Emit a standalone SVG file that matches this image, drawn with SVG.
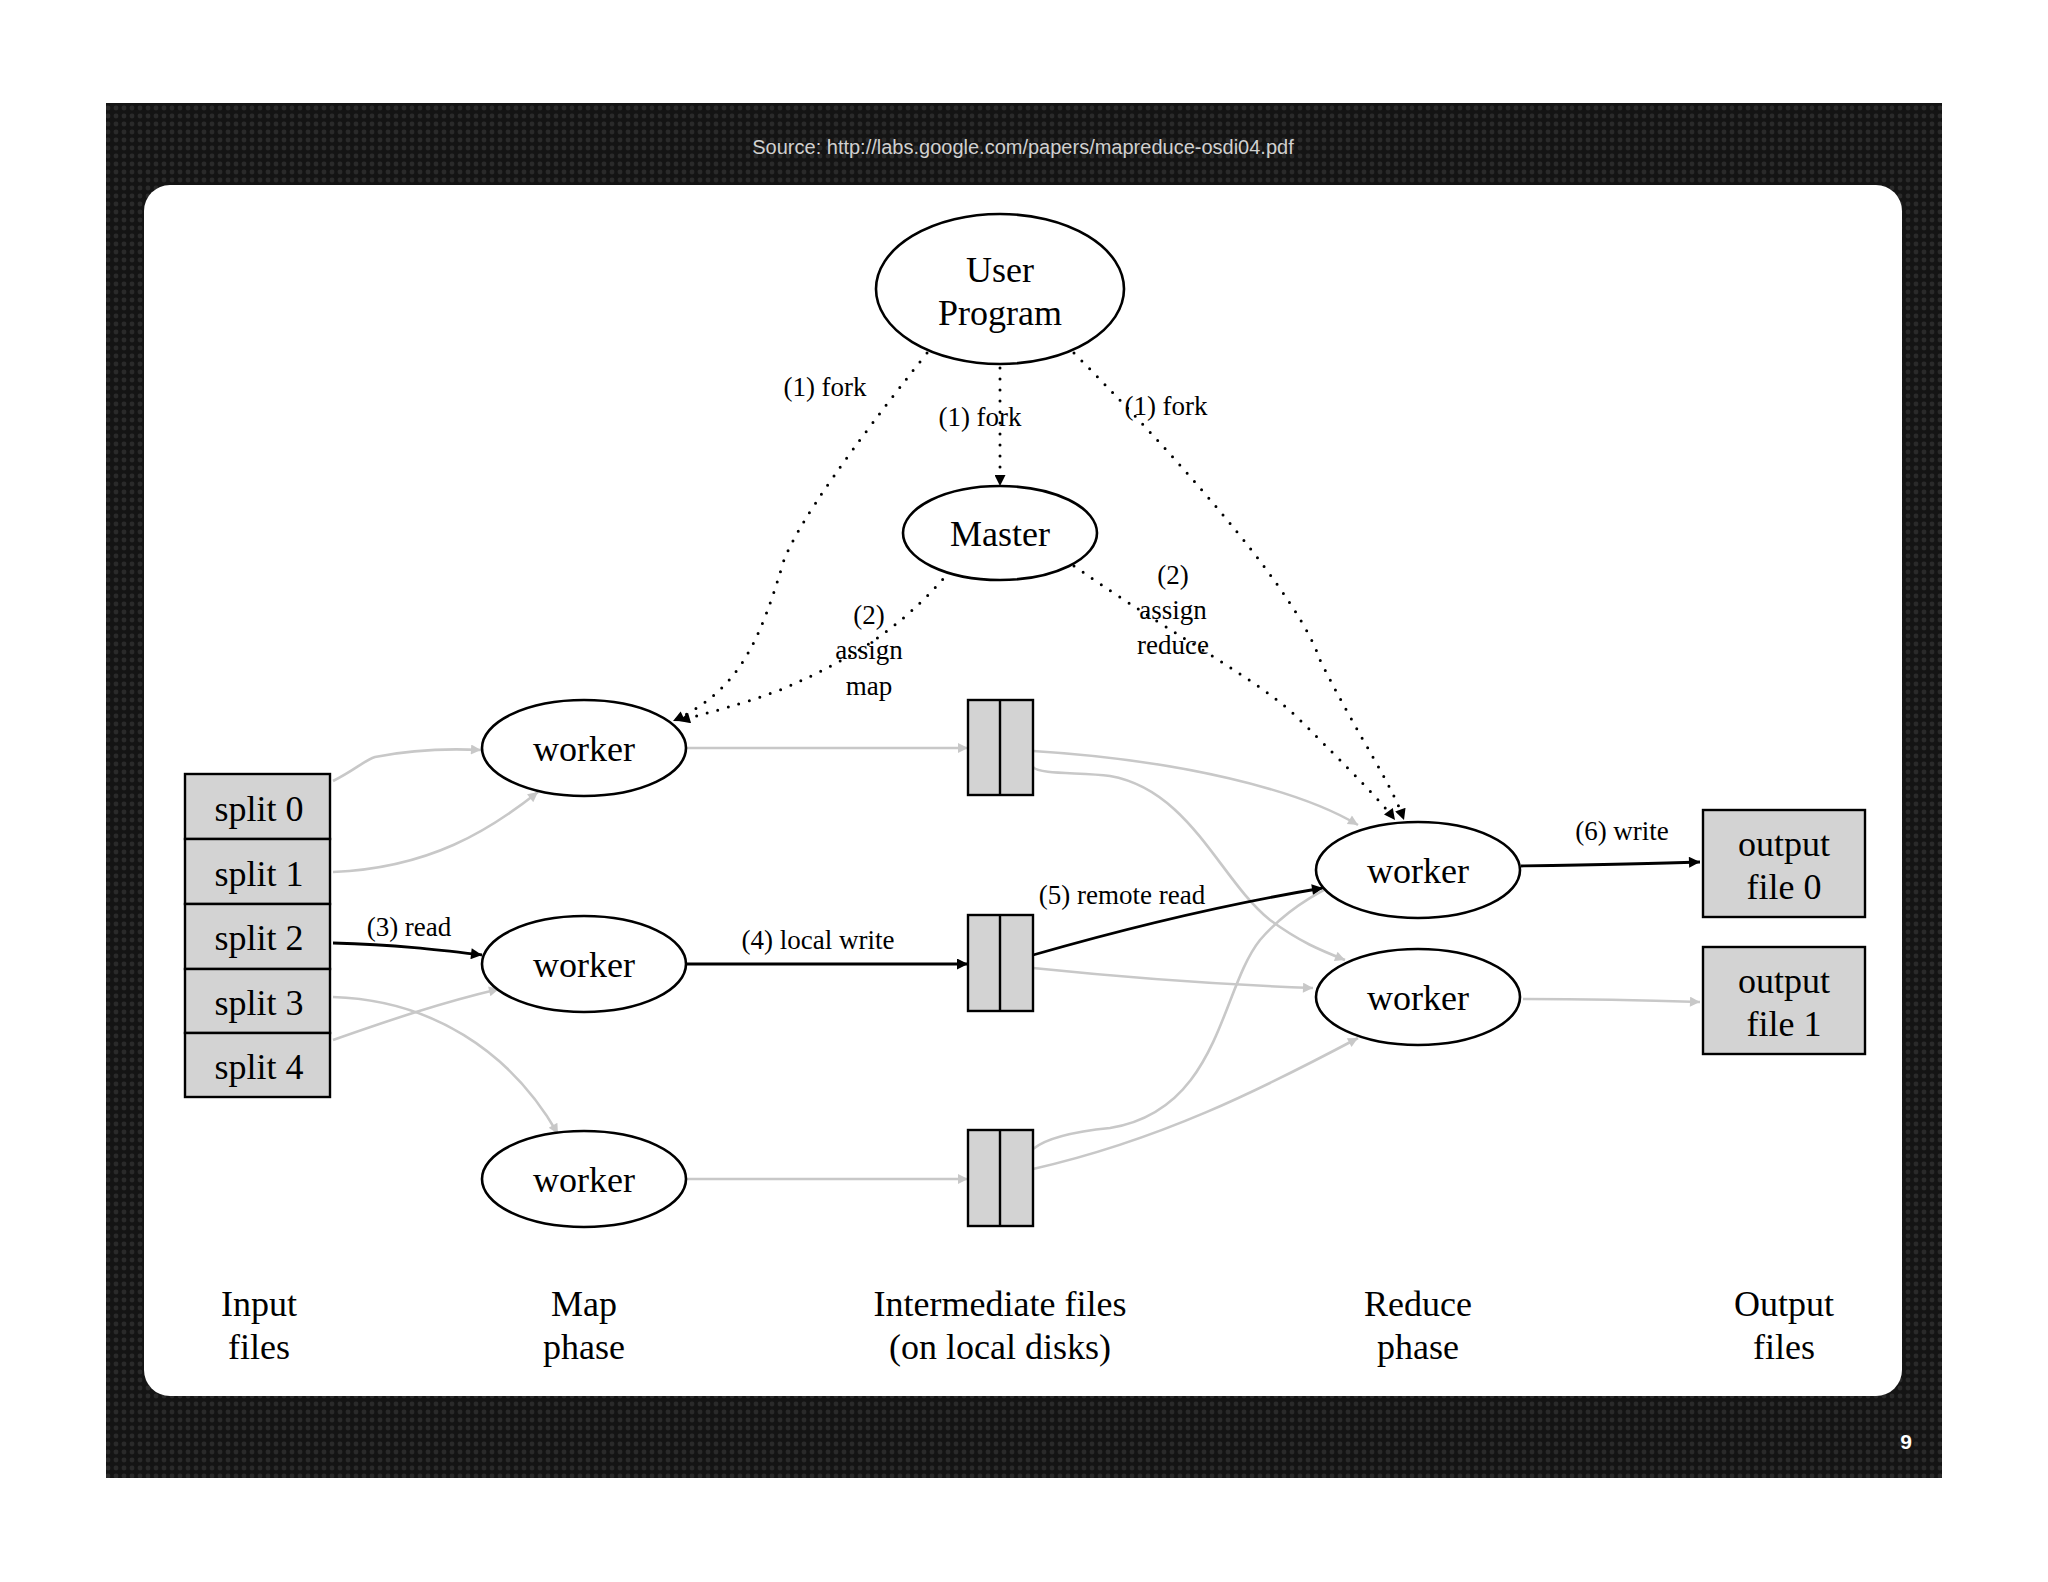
<svg xmlns="http://www.w3.org/2000/svg" width="2048" height="1582" viewBox="0 0 2048 1582">
<style>
.n{fill:#fff;stroke:#000;stroke-width:2.6}
.b{fill:#d3d3d3;stroke:#000;stroke-width:2.4}
.t{font-family:"Liberation Serif","Times New Roman",serif;font-size:36px;text-anchor:middle;fill:#000}
.l{font-family:"Liberation Serif","Times New Roman",serif;font-size:27px;text-anchor:middle;fill:#000}
.g{fill:none;stroke:#c8c8c8;stroke-width:2.6;marker-end:url(#ag)}
.k{fill:none;stroke:#000;stroke-width:2.8;marker-end:url(#ak)}
.d{fill:none;stroke:#000;stroke-width:3;stroke-linecap:round;stroke-dasharray:0 11;marker-end:url(#ak)}
</style>
<defs>
<pattern id="cf" width="8" height="8" patternUnits="userSpaceOnUse"><rect width="8" height="8" fill="#141414"/><circle cx="4" cy="4" r="2.4" fill="#2a2a2a"/></pattern>
<marker id="ag" viewBox="0 0 10 10" refX="10" refY="5" markerWidth="16" markerHeight="10" markerUnits="userSpaceOnUse" orient="auto"><path d="M0,0L10,5L0,10z" fill="#c8c8c8"/></marker>
<marker id="ak" viewBox="0 0 10 10" refX="10" refY="5" markerWidth="17" markerHeight="11" markerUnits="userSpaceOnUse" orient="auto"><path d="M0,0L10,5L0,10z" fill="#000"/></marker>
</defs>
<rect width="2048" height="1582" fill="#fff"/>
<rect x="106" y="103" width="1836" height="1375" fill="url(#cf)"/>
<text x="1023" y="154" font-family="Liberation Sans,Arial,sans-serif" font-size="20" fill="#d0d0d0" text-anchor="middle">Source: http://labs.google.com/papers/mapreduce-osdi04.pdf</text>
<text x="1906" y="1449" font-family="Liberation Sans,Arial,sans-serif" font-size="21" font-weight="bold" fill="#fff" text-anchor="middle">9</text>
<rect x="144" y="185" width="1758" height="1211" rx="26" fill="#fff"/>

<g id="connectors">
<path class="d" d="M927,353 C850,450 800,520 784,560 C760,640 740,690 673,721"/>
<path class="d" d="M1000,368 L1000,486"/>
<path class="d" d="M1074,353 C1200,480 1300,600 1320,660 C1360,740 1390,780 1404,820"/>
<path class="d" d="M950,571 C900,630 850,660 780,690 C740,705 710,712 679,721"/>
<path class="d" d="M1074,566 C1180,640 1260,680 1300,720 C1350,770 1380,800 1395,820"/>
<path class="g" d="M333,781 C355,770 365,760 375,757 C410,750 440,748 481,750"/>
<path class="g" d="M333,872 C430,868 490,830 538,792"/>
<path class="k" d="M333,943 C400,945 440,950 482,955"/>
<path class="g" d="M333,997 C430,1000 510,1050 558,1134"/>
<path class="g" d="M333,1040 C390,1020 440,1003 499,989"/>
<path class="g" d="M687,748 L968,748"/>
<path class="k" d="M687,964 L968,964"/>
<path class="g" d="M687,1179 L968,1179"/>
<path class="g" d="M1033,751 C1180,760 1300,790 1358,825"/>
<path class="g" d="M1033,767 C1040,775 1080,772 1110,776 C1190,790 1220,880 1270,920 C1300,942 1320,950 1345,960"/>
<path class="k" d="M1033,955 C1120,930 1220,905 1323,888"/>
<path class="g" d="M1033,968 C1120,977 1230,985 1313,988"/>
<path class="g" d="M1033,1149 C1050,1135 1090,1130 1110,1128 C1220,1110 1220,990 1260,940 C1290,905 1330,885 1358,875"/>
<path class="g" d="M1033,1169 C1160,1140 1260,1090 1358,1038"/>
<path class="k" d="M1521,866 C1580,865 1640,864 1700,862"/>
<path class="g" d="M1523,999 C1580,999 1640,1000 1700,1002"/>
</g>

<g id="labels">
<text class="l" x="825" y="396">(1) fork</text>
<text class="l" x="980" y="426">(1) fork</text>
<text class="l" x="1166" y="415">(1) fork</text>
<text class="l" x="869" y="624">(2)</text><text class="l" x="869" y="659">assign</text><text class="l" x="869" y="695">map</text>
<text class="l" x="1173" y="584">(2)</text><text class="l" x="1173" y="619">assign</text><text class="l" x="1173" y="654">reduce</text>
<text class="l" x="409" y="936">(3) read</text>
<text class="l" x="818" y="949">(4) local write</text>
<text class="l" x="1122" y="904">(5) remote read</text>
<text class="l" x="1622" y="840">(6) write</text>
</g>

<g id="user"><ellipse class="n" cx="1000" cy="289" rx="124" ry="75"/><text class="t" x="1000" y="282">User</text><text class="t" x="1000" y="325">Program</text></g>
<g id="master"><ellipse class="n" cx="1000" cy="533" rx="97" ry="47"/><text class="t" x="1000" y="546">Master</text></g>
<g id="mworker0"><ellipse class="n" cx="584" cy="748" rx="102" ry="48"/><text class="t" x="584" y="761">worker</text></g>
<g id="mworker1"><ellipse class="n" cx="584" cy="964" rx="102" ry="48"/><text class="t" x="584" y="977">worker</text></g>
<g id="mworker2"><ellipse class="n" cx="584" cy="1179" rx="102" ry="48"/><text class="t" x="584" y="1192">worker</text></g>
<g id="rworker0"><ellipse class="n" cx="1418" cy="870" rx="102" ry="48"/><text class="t" x="1418" y="883">worker</text></g>
<g id="rworker1"><ellipse class="n" cx="1418" cy="997" rx="102" ry="48"/><text class="t" x="1418" y="1010">worker</text></g>

<g id="splits">
<rect class="b" x="185" y="774" width="145" height="65"/><text class="t" x="259" y="821">split 0</text>
<rect class="b" x="185" y="839" width="145" height="65"/><text class="t" x="259" y="886">split 1</text>
<rect class="b" x="185" y="904" width="145" height="65"/><text class="t" x="259" y="950">split 2</text>
<rect class="b" x="185" y="969" width="145" height="64"/><text class="t" x="259" y="1015">split 3</text>
<rect class="b" x="185" y="1033" width="145" height="64"/><text class="t" x="259" y="1079">split 4</text>
</g>
<g id="ifile0"><rect class="b" x="968" y="700" width="65" height="95"/><line x1="1000" y1="700" x2="1000" y2="795" stroke="#000" stroke-width="2.4"/></g>
<g id="ifile1"><rect class="b" x="968" y="915" width="65" height="96"/><line x1="1000" y1="915" x2="1000" y2="1011" stroke="#000" stroke-width="2.4"/></g>
<g id="ifile2"><rect class="b" x="968" y="1130" width="65" height="96"/><line x1="1000" y1="1130" x2="1000" y2="1226" stroke="#000" stroke-width="2.4"/></g>
<g id="out0"><rect class="b" x="1703" y="810" width="162" height="107"/><text class="t" x="1784" y="856">output</text><text class="t" x="1784" y="899">file 0</text></g>
<g id="out1"><rect class="b" x="1703" y="947" width="162" height="107"/><text class="t" x="1784" y="993">output</text><text class="t" x="1784" y="1036">file 1</text></g>

<g id="captions">
<text class="t" x="259" y="1316">Input</text><text class="t" x="259" y="1359">files</text>
<text class="t" x="584" y="1316">Map</text><text class="t" x="584" y="1359">phase</text>
<text class="t" x="1000" y="1316">Intermediate files</text><text class="t" x="1000" y="1359">(on local disks)</text>
<text class="t" x="1418" y="1316">Reduce</text><text class="t" x="1418" y="1359">phase</text>
<text class="t" x="1784" y="1316">Output</text><text class="t" x="1784" y="1359">files</text>
</g>
</svg>
